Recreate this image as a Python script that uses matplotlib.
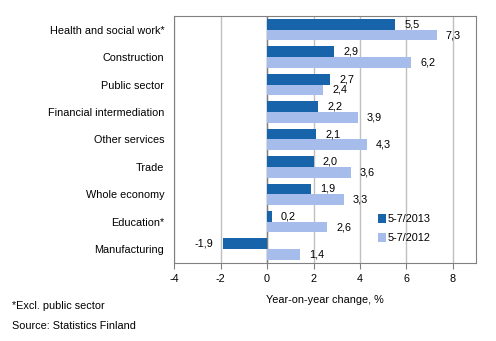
import matplotlib
matplotlib.use('Agg')
import matplotlib.pyplot as plt
import numpy as np

plt.rcParams['font.family'] = ['Liberation Sans', 'DejaVu Sans']
plt.rcParams['font.size'] = 7.8

# data, top to bottom
categories = ['Health and social work*', 'Construction', 'Public sector',
              'Financial intermediation', 'Other services', 'Trade',
              'Whole economy', 'Education*', 'Manufacturing']
y2013 = [5.5, 2.9, 2.7, 2.2, 2.1, 2.0, 1.9, 0.2, -1.9]
y2012 = [7.3, 6.2, 2.4, 3.9, 4.3, 3.6, 3.3, 2.6, 1.4]
series_names = ['5-7/2013', '5-7/2012']
xticks = [-4, -2, 0, 2, 4, 6, 8]

c_dark = '#1764ab'
c_light = '#a6bcea'

fig = plt.figure(figsize=(4.96, 3.41), dpi=100)
ax = fig.add_axes([0.351, 0.229, 0.609, 0.724])

n = len(categories)
pos = np.arange(n)[::-1]
h = 0.39
ax.barh(pos + h / 2, y2013, height=h, color=c_dark, label=series_names[0], zorder=3)
ax.barh(pos - h / 2, y2012, height=h, color=c_light, label=series_names[1], zorder=3)

def fmt(v):
    return ('%.1f' % v).replace('.', ',')

for p, a, b in zip(pos, y2013, y2012):
    if a >= 0:
        ax.text(a + 0.4, p + h / 2, fmt(a), va='center', ha='left')
    else:
        ax.text(a - 0.4, p + h / 2, fmt(a), va='center', ha='right')
    ax.text(b + 0.4, p - h / 2, fmt(b), va='center', ha='left')

ax.set_xlim(-4, 9)
ax.set_ylim(-0.5, n - 0.5)
ax.set_xticks(xticks)
ax.set_xticklabels([str(t) for t in xticks])
ax.set_yticks(pos)
ax.set_yticklabels(categories)
ax.tick_params(axis='y', length=0, pad=7)
ax.tick_params(axis='x', length=4, color='#808080', pad=4)
ax.grid(axis='x', color='#c0c0c0', linewidth=1, zorder=0)
ax.axvline(0, color='#808080', linewidth=1, zorder=2)
for s in ax.spines.values():
    s.set_color('#808080')
ax.set_xlabel('Year-on-year change, %', labelpad=8)

ax.legend(loc='lower right', bbox_to_anchor=(0.88, 0.04), frameon=False,
          handlelength=0.7, handleheight=1.0, handletextpad=0.1,
          labelspacing=0.8)

fig.text(0.024, 0.095, '*Excl. public sector')
fig.text(0.024, 0.035, 'Source: Statistics Finland')

fig.savefig('out.png', dpi=100)
